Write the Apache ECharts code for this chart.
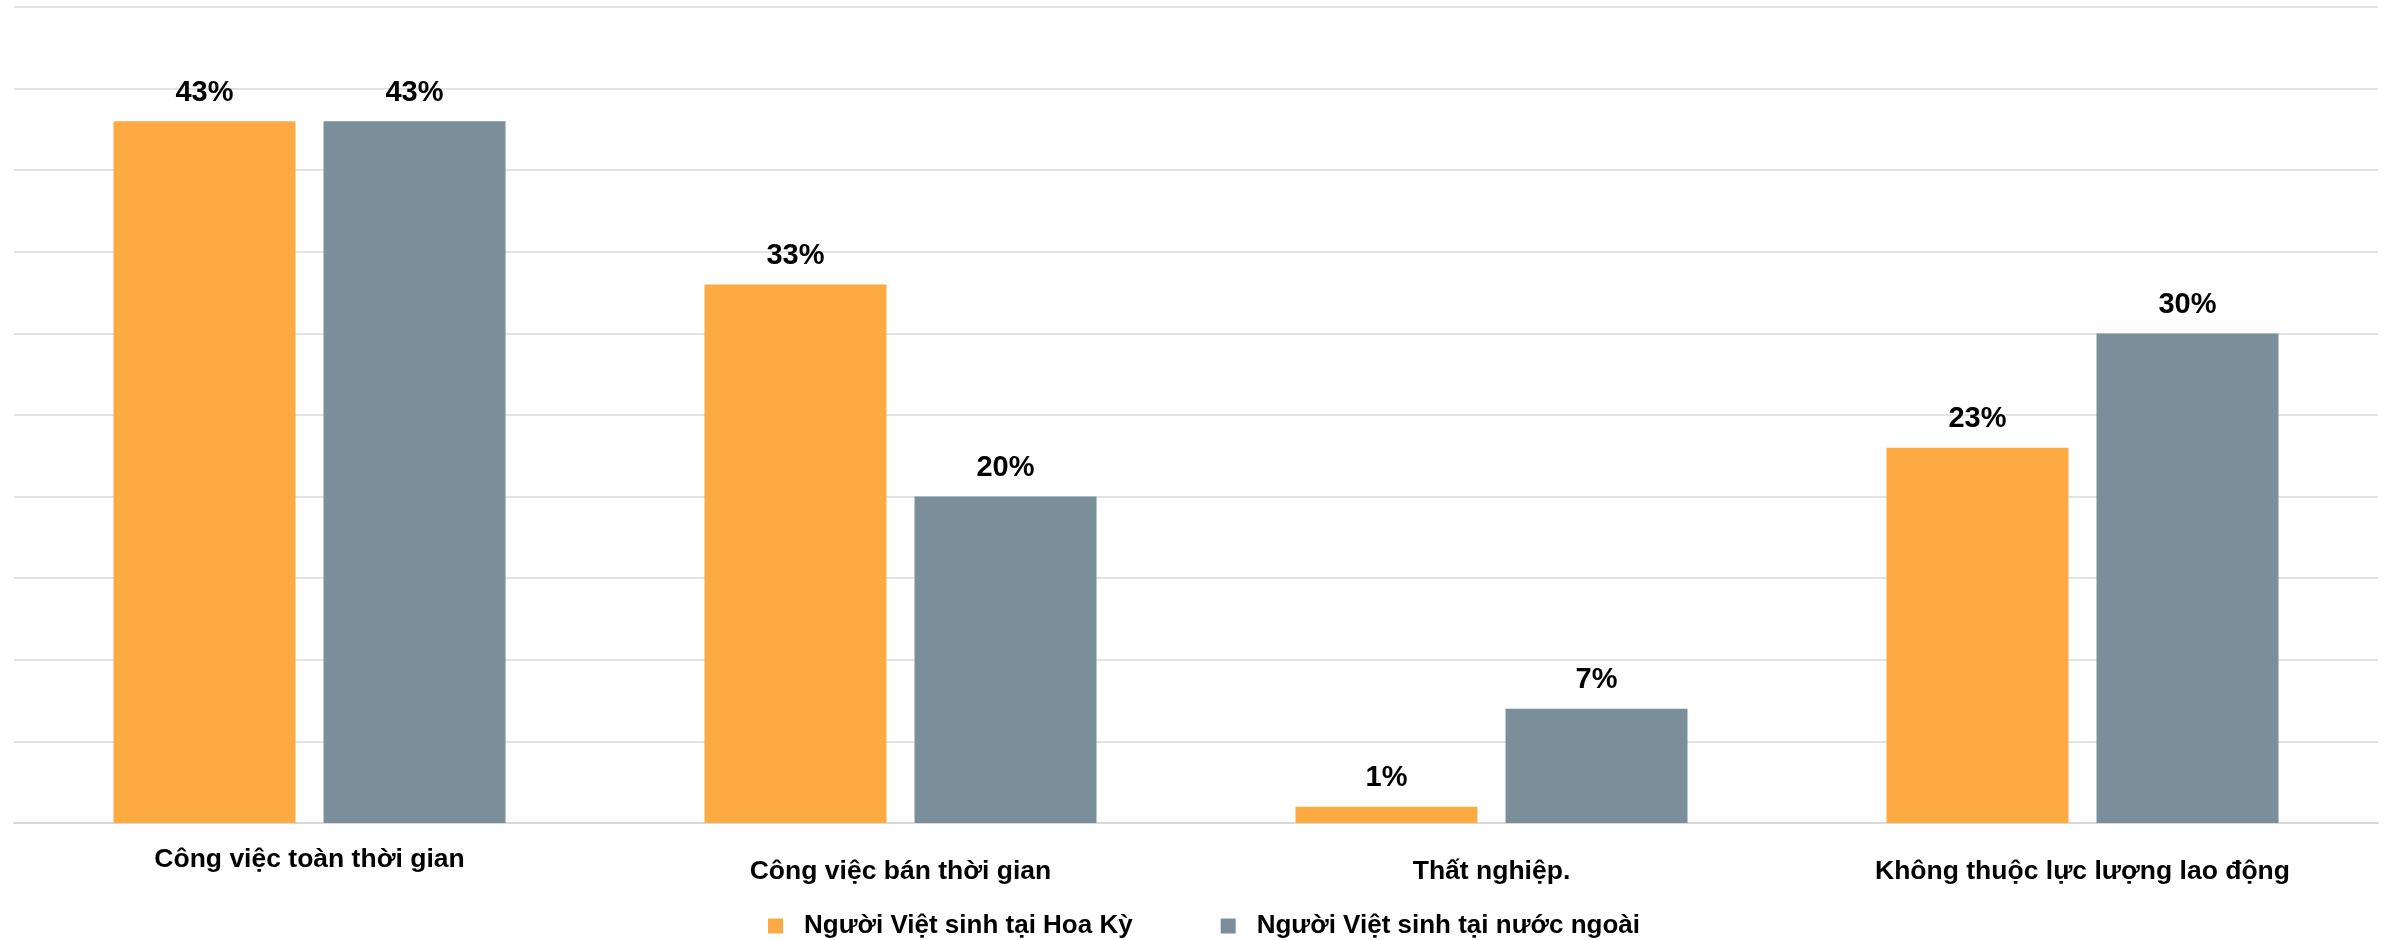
<!DOCTYPE html>
<html>
<head>
<meta charset="utf-8">
<script src="https://cdn.jsdelivr.net/npm/echarts@6/dist/echarts.min.js"></script>
<style>
html,body{margin:0;padding:0;background:#fff;}
#chart{width:2386px;height:940px;}
</style>
</head>
<body>
<div id="chart"></div>
<script>
const categories = ['Công việc toàn thời gian', 'Công việc bán thời gian', 'Thất nghiệp.', 'Không thuộc lực lượng lao động'];
const seriesNames = ['Người Việt sinh tại Hoa Kỳ', 'Người Việt sinh tại nước ngoài'];
const usBorn = [43, 33, 1, 23];
const foreignBorn = [43, 20, 7, 30];
const colors = ['#FDAA43', '#7A8F9A'];

const FONT = '"Liberation Sans", Arial, sans-serif';
const chart = echarts.init(document.getElementById('chart'));
const labelStyle = {
  show: true, position: 'top', distance: 14,
  formatter: p => p.value + '%',
  fontFamily: FONT, fontWeight: 'bold', fontSize: 29, color: '#000'
};
chart.setOption({
  animation: false,
  textStyle: { fontFamily: FONT },
  grid: { left: 14, right: 8, top: 7, bottom: 117, containLabel: false },
  legend: {
    left: 763, top: 908,
    icon: 'rect', itemWidth: 15, itemHeight: 15, itemGap: 88,
    textStyle: { fontFamily: FONT, fontWeight: 'bold', fontSize: 26, color: '#000', padding: [0, 0, 0, 16] },
    data: seriesNames
  },
  xAxis: {
    type: 'category', data: categories,
    axisLine: { lineStyle: { color: '#D9D9D9', width: 2 } },
    axisTick: { show: false },
    axisLabel: {
      interval: 0, margin: 23,
      formatter: (v, i) => i === 0 ? '{a|' + v + '}' : '{b|' + v + '}',
      rich: {
        a: { fontFamily: FONT, fontWeight: 'bold', fontSize: 26.5, color: '#000' },
        b: { fontFamily: FONT, fontWeight: 'bold', fontSize: 26.5, color: '#000', padding: [12, 0, 0, 0] }
      }
    }
  },
  yAxis: {
    type: 'value', min: 0, max: 50, interval: 5,
    axisLabel: { show: false },
    axisLine: { show: false }, axisTick: { show: false },
    splitLine: { lineStyle: { color: '#E3E3E3', width: 2 } }
  },
  series: [
    { name: seriesNames[0], type: 'bar', data: usBorn, itemStyle: { color: colors[0] },
      barWidth: 182, barGap: '15.4%', label: labelStyle },
    { name: seriesNames[1], type: 'bar', data: foreignBorn, itemStyle: { color: colors[1] },
      barWidth: 182, label: labelStyle }
  ]
});
</script>
</body>
</html>
